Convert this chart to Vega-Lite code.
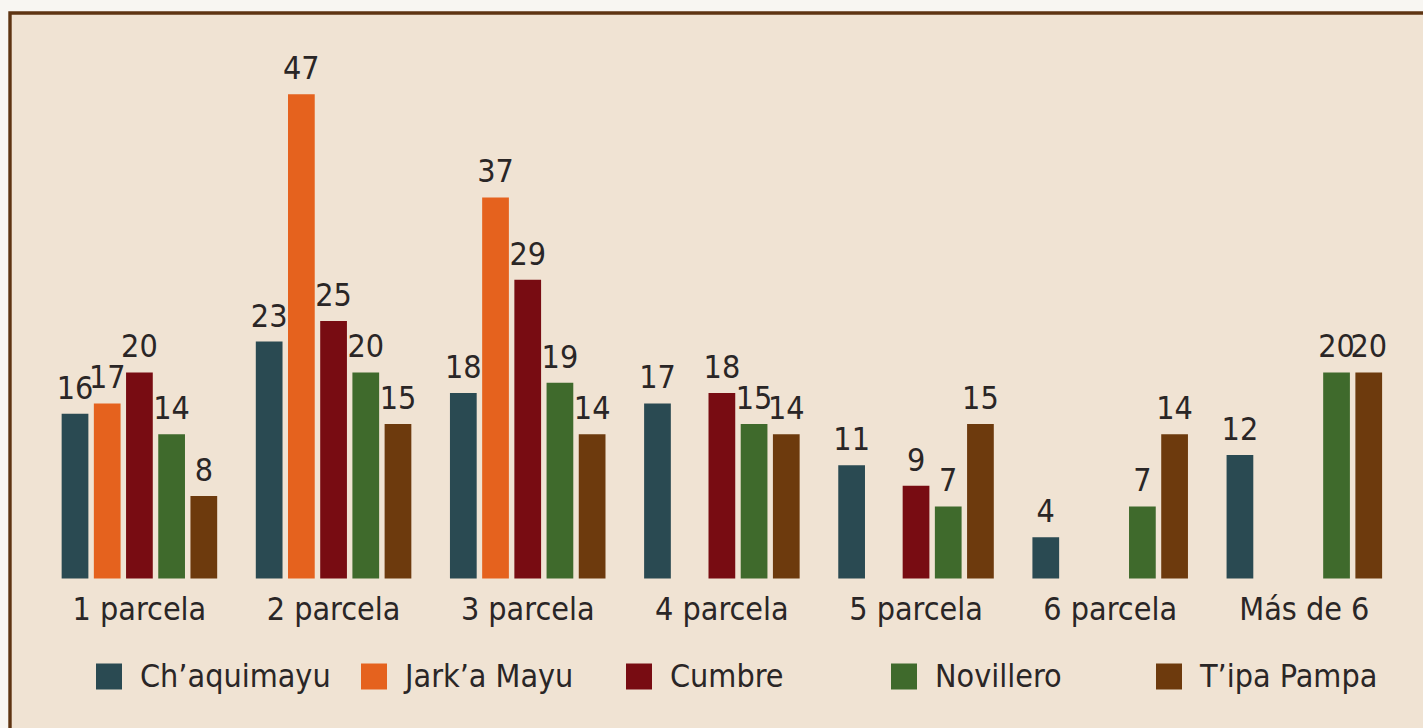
{
  "$schema": "https://vega.github.io/schema/vega-lite/v6.json",
  "autosize": {"type": "none"},
  "padding": {"left": 10, "top": 13, "right": 0, "bottom": 0},
  "width": 1430,
  "height": 720,
  "background": "#f8f6f2",
  "config": {
    "view": {"fill": "#f0e3d3", "stroke": "#5e3412", "strokeWidth": 3.4},
    "font": "DejaVu Sans Condensed, sans-serif",
    "text": {"font": "DejaVu Sans Condensed, sans-serif"}
  },
  "data": {
    "values": [
      {"grupo": "1 parcela", "zona": "Ch’aquimayu", "valor": 16},
      {"grupo": "1 parcela", "zona": "Jark’a Mayu", "valor": 17},
      {"grupo": "1 parcela", "zona": "Cumbre", "valor": 20},
      {"grupo": "1 parcela", "zona": "Novillero", "valor": 14},
      {"grupo": "1 parcela", "zona": "T’ipa Pampa", "valor": 8},
      {"grupo": "2 parcela", "zona": "Ch’aquimayu", "valor": 23},
      {"grupo": "2 parcela", "zona": "Jark’a Mayu", "valor": 47},
      {"grupo": "2 parcela", "zona": "Cumbre", "valor": 25},
      {"grupo": "2 parcela", "zona": "Novillero", "valor": 20},
      {"grupo": "2 parcela", "zona": "T’ipa Pampa", "valor": 15},
      {"grupo": "3 parcela", "zona": "Ch’aquimayu", "valor": 18},
      {"grupo": "3 parcela", "zona": "Jark’a Mayu", "valor": 37},
      {"grupo": "3 parcela", "zona": "Cumbre", "valor": 29},
      {"grupo": "3 parcela", "zona": "Novillero", "valor": 19},
      {"grupo": "3 parcela", "zona": "T’ipa Pampa", "valor": 14},
      {"grupo": "4 parcela", "zona": "Ch’aquimayu", "valor": 17},
      {"grupo": "4 parcela", "zona": "Cumbre", "valor": 18},
      {"grupo": "4 parcela", "zona": "Novillero", "valor": 15},
      {"grupo": "4 parcela", "zona": "T’ipa Pampa", "valor": 14},
      {"grupo": "5 parcela", "zona": "Ch’aquimayu", "valor": 11},
      {"grupo": "5 parcela", "zona": "Cumbre", "valor": 9},
      {"grupo": "5 parcela", "zona": "Novillero", "valor": 7},
      {"grupo": "5 parcela", "zona": "T’ipa Pampa", "valor": 15},
      {"grupo": "6 parcela", "zona": "Ch’aquimayu", "valor": 4},
      {"grupo": "6 parcela", "zona": "Novillero", "valor": 7},
      {"grupo": "6 parcela", "zona": "T’ipa Pampa", "valor": 14},
      {"grupo": "Más de 6", "zona": "Ch’aquimayu", "valor": 12},
      {"grupo": "Más de 6", "zona": "Novillero", "valor": 20},
      {"grupo": "Más de 6", "zona": "T’ipa Pampa", "valor": 20}
    ]
  },
  "encoding": {
    "x": {
      "field": "grupo",
      "type": "nominal",
      "sort": ["1 parcela", "2 parcela", "3 parcela", "4 parcela", "5 parcela", "6 parcela", "Más de 6"],
      "scale": {"paddingInner": 0.1707, "paddingOuter": 0.268, "align": 0.47},
      "axis": {
        "orient": "bottom",
        "offset": -154.5,
        "title": null,
        "domain": false,
        "ticks": false,
        "grid": false,
        "labelAngle": 0,
        "labelFont": "DejaVu Sans Condensed, sans-serif",
        "labelFontSize": 32,
        "labelColor": "#2a2626",
        "labelPadding": 16
      }
    },
    "xOffset": {
      "field": "zona",
      "type": "nominal",
      "scale": {
        "domain": ["Ch’aquimayu", "Jark’a Mayu", "Cumbre", "Novillero", "T’ipa Pampa"],
        "paddingInner": 0.17,
        "paddingOuter": 0.085
      }
    },
    "y": {
      "field": "valor",
      "type": "quantitative",
      "scale": {"domain": [-15, 54.9], "nice": false},
      "axis": null
    }
  },
  "layer": [
    {
      "mark": {"type": "bar", "opacity": 1},
      "encoding": {
        "color": {
          "field": "zona",
          "type": "nominal",
          "scale": {
            "domain": ["Ch’aquimayu", "Jark’a Mayu", "Cumbre", "Novillero", "T’ipa Pampa"],
            "range": ["#2a4a52", "#e5621e", "#780c12", "#3f6a2c", "#6d3a0d"]
          },
          "legend": {
            "orient": "none",
            "legendX": 83,
            "legendY": 647.5,
            "direction": "horizontal",
            "columns": 5,
            "gridAlign": "all",
            "columnPadding": 27,
            "title": null,
            "symbolType": "square",
            "symbolSize": 676,
            "symbolStrokeWidth": 0,
            "symbolOpacity": 1,
            "labelFont": "DejaVu Sans Condensed, sans-serif",
            "labelFontSize": 32,
            "labelColor": "#2a2626",
            "labelOffset": 15,
            "labelLimit": 0
          }
        }
      }
    },
    {
      "mark": {"type": "text", "baseline": "alphabetic", "dy": -15, "fontSize": 32, "color": "#2a2626", "font": "DejaVu Sans Condensed, sans-serif"},
      "encoding": {
        "text": {"field": "valor", "type": "quantitative"}
      }
    }
  ]
}
